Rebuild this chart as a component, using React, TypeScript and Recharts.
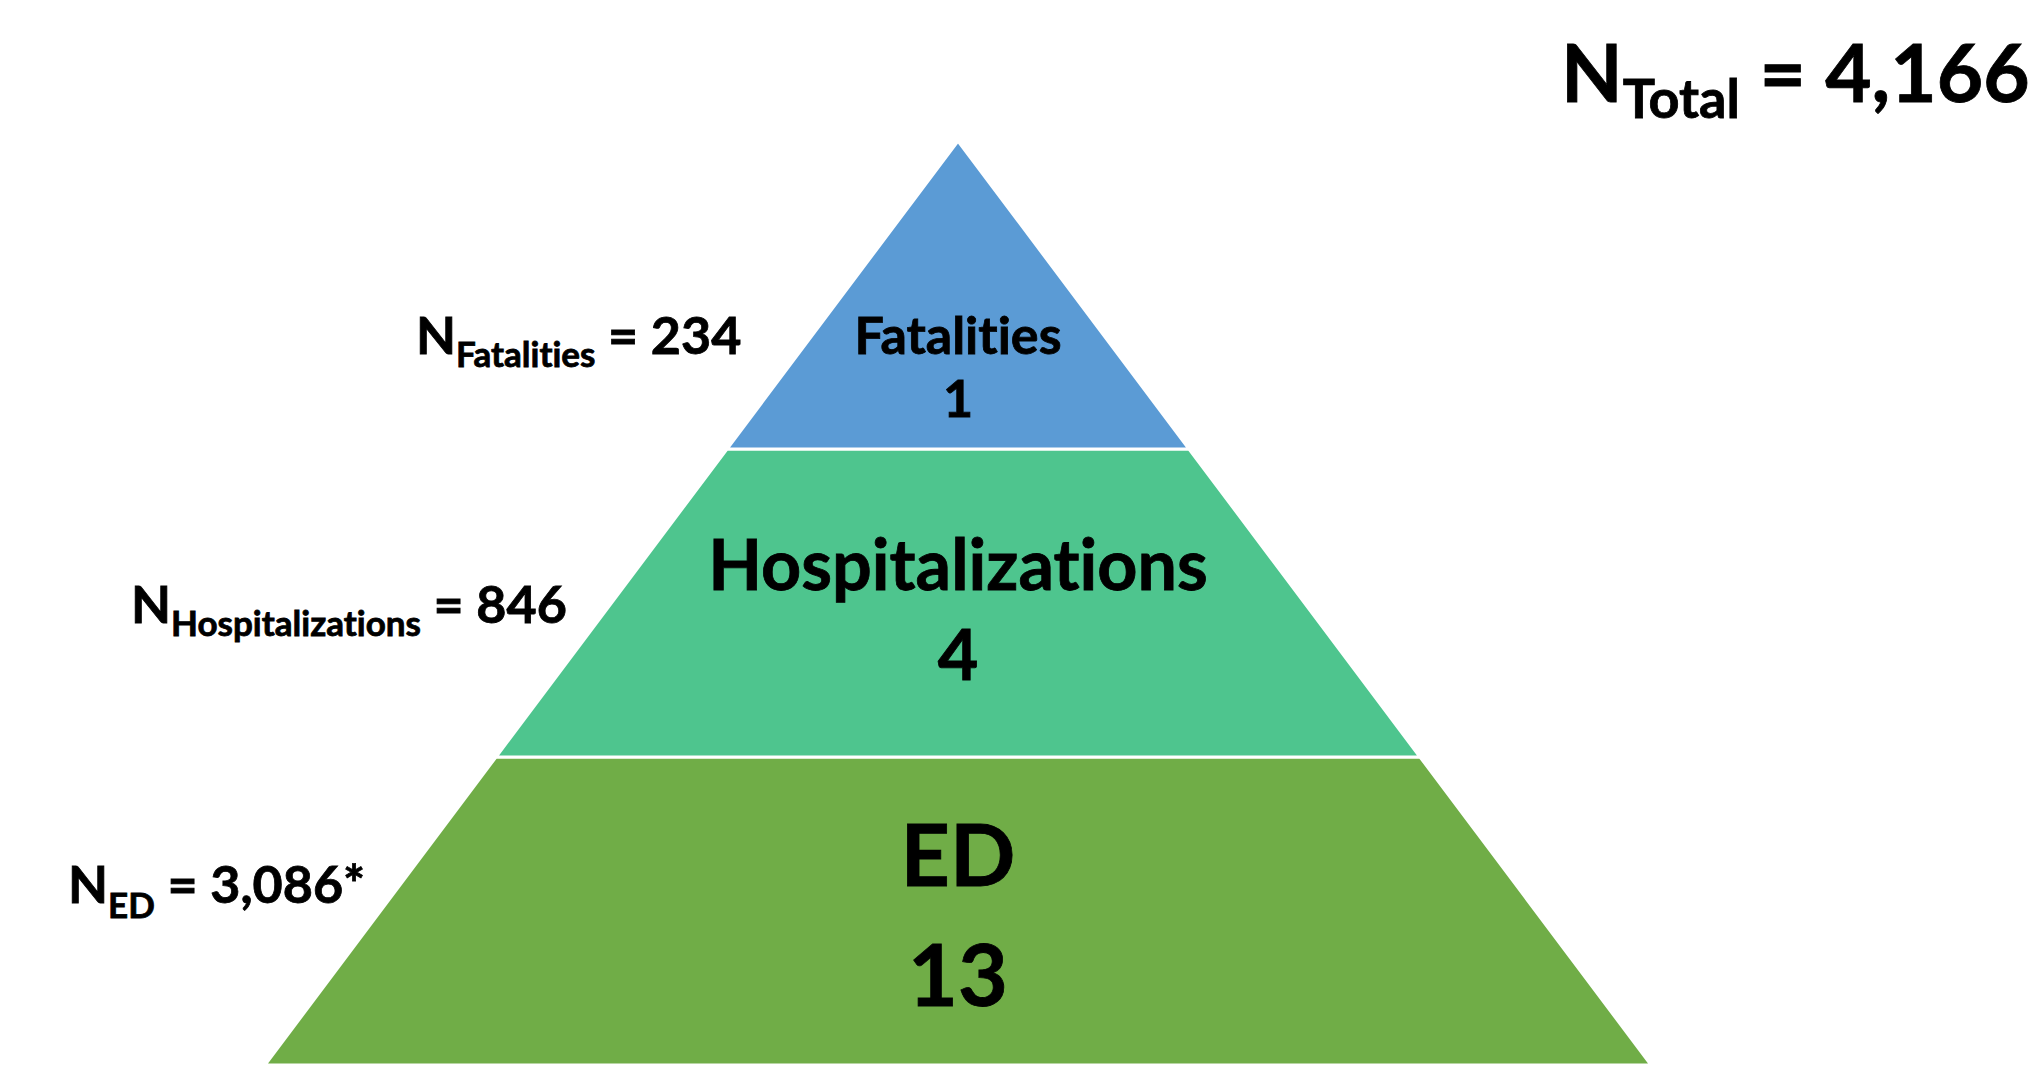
import React from 'react';
import { FunnelChart, Funnel, Cell } from 'recharts';

// tiers from top of the pyramid to the bottom
const tiers = ['Fatalities', 'Hospitalizations', 'ED'];
const tierCounts = [1, 4, 13];
const tierTotals = ['234', '846', '3,086*'];
const totalLabel = '4,166';
const tierColors = ['#5B9BD5', '#4EC58E', '#70AD47'];

// Funnel is drawn reversed, so the widest tier goes first
const funnelData = tiers
  .map((name, i) => ({ name, count: tierCounts[i], level: i + 1, color: tierColors[i] }))
  .reverse();

const FONT = 'Lato, "Open Sans", sans-serif';

export default function App() {
  return (
    <div style={{ position: 'absolute', left: 0, top: 0, width: 2043, height: 1065, background: '#fff', overflow: 'hidden', fontFamily: FONT }}>
      <div style={{ position: 'absolute', left: 265, top: 141 }}>
        <FunnelChart width={1386} height={924} margin={{ top: 0, right: 0, bottom: 0, left: 0 }}>
          <Funnel dataKey="level" nameKey="name" data={funnelData} reversed isAnimationActive={false} stroke="#fff" strokeWidth={3}>
            {funnelData.map(d => (
              <Cell key={d.name} fill={d.color} />
            ))}
          </Funnel>
        </FunnelChart>
      </div>
      <svg width={2043} height={1065} style={{ position: 'absolute', left: 0, top: 0, pointerEvents: 'none' }}>
        <g
          fontFamily={FONT}
          fontWeight={700}
          fill="#000"
          stroke="#000"
          strokeWidth={0.8}
          style={{ whiteSpace: 'pre', fontVariantLigatures: 'none' }}
        >
          {/* total */}
          <text x={1561} y={102} fontSize={80}>
            N<tspan fontSize={54} dy={16}>Total</tspan><tspan dy={-16}> = {totalLabel}</tspan>
          </text>
          {/* left-side totals */}
          <text x={416} y={354} fontSize={52}>
            N<tspan fontSize={35} dy={13}>{tiers[0]}</tspan><tspan dy={-13}> = {tierTotals[0]}</tspan>
          </text>
          <text x={131} y={623} fontSize={52}>
            N<tspan fontSize={35} dy={13}>{tiers[1]}</tspan><tspan dy={-13}> = {tierTotals[1]}</tspan>
          </text>
          <text x={68} y={903} fontSize={52}>
            N<tspan fontSize={35} dy={15}>{tiers[2]}</tspan><tspan dy={-15}> = {tierTotals[2]}</tspan>
          </text>
          {/* inner labels */}
          <text x={958} y={354} fontSize={52} textAnchor="middle">{tiers[0]}</text>
          <text x={958} y={417} fontSize={52} textAnchor="middle">{tierCounts[0]}</text>
          <text x={958} y={590} fontSize={70} textAnchor="middle">{tiers[1]}</text>
          <text x={958} y={680} fontSize={70} textAnchor="middle">{tierCounts[1]}</text>
          <text x={958} y={886} fontSize={86} textAnchor="middle">{tiers[2]}</text>
          <text x={958} y={1006} fontSize={86} textAnchor="middle">{tierCounts[2]}</text>
        </g>
      </svg>
    </div>
  );
}
